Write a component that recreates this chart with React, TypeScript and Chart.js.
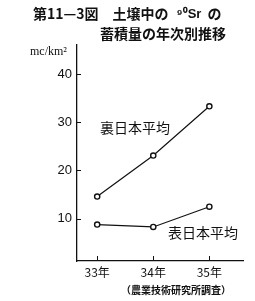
import React, { useEffect, useRef } from "react";
import { Chart, registerables } from "chart.js";

Chart.register(...registerables);

const years = [33, 34, 35];
const yearLabels = ["33年", "34年", "35年"];
const uraNihon = [14.6, 23.1, 33.3];
const omoteNihon = [8.8, 8.3, 12.5];
const yTicks = [10, 20, 30, 40];
const titleLine1 = "第11—3図　土壌中の";
const titleSr = "⁹⁰Sr";
const titleLine1b = "の";
const titleLine2 = "蓄積量の年次別推移";
const unitLabel = "mc/km²";
const seriesNames = ["裏日本平均", "表日本平均"];
const sourceNote = "（農業技術研究所調査）";

const JP = '"Noto Sans CJK JP", sans-serif';

const decor = {
  id: "decor",
  afterDraw(chart: any) {
    const ctx = chart.ctx;
    const xs = chart.scales.x;
    const ys = chart.scales.y;
    const area = chart.chartArea;
    ctx.save();
    // inside ticks
    ctx.strokeStyle = "#111";
    ctx.lineWidth = 1;
    ctx.beginPath();
    yTicks.forEach((v) => {
      const y = Math.round(ys.getPixelForValue(v)) + 0.5;
      ctx.moveTo(area.left, y);
      ctx.lineTo(area.left + 4, y);
    });
    years.forEach((v) => {
      const x = Math.round(xs.getPixelForValue(v)) + 0.5;
      ctx.moveTo(x, area.bottom);
      ctx.lineTo(x, area.bottom - 5);
    });
    ctx.stroke();

    ctx.fillStyle = "#111";
    ctx.textBaseline = "middle";
    // title
    ctx.font = `bold 14px ${JP}`;
    ctx.textAlign = "left";
    ctx.fillText(titleLine1, 33, 14);
    let w = ctx.measureText(titleLine1).width;
    ctx.font = `bold 13px "Liberation Sans", sans-serif`;
    ctx.fillText(titleSr, 33 + w + 8, 14);
    const w2 = ctx.measureText(titleSr).width;
    ctx.font = `bold 14px ${JP}`;
    ctx.fillText(titleLine1b, 33 + w + 8 + w2 + 6, 14);
    ctx.fillText(titleLine2, 100, 34);

    // unit
    ctx.font = `12px "Liberation Serif", serif`;
    ctx.fillText(unitLabel, 30, 52);

    // series labels
    ctx.font = `14px ${JP}`;
    ctx.fillText(seriesNames[0], 100, 128);
    ctx.fillText(seriesNames[1], 168, 233);

    // source
    ctx.font = `bold 10px ${JP}`;
    ctx.fillText(sourceNote, 121, 290);
    ctx.restore();
  },
};

export default function App() {
  const ref = useRef<HTMLCanvasElement>(null);
  useEffect(() => {
    const ds = (data: number[]) => ({
      data: years.map((x, i) => ({ x, y: data[i] })),
      borderColor: "#111",
      borderWidth: 1.2,
      pointRadius: 2.6,
      pointBorderWidth: 1.4,
      pointBackgroundColor: "#fff",
      pointBorderColor: "#111",
      tension: 0,
    });
    const chart = new Chart(ref.current!, {
      type: "line",
      data: { datasets: [ds(uraNihon), ds(omoteNihon)] },
      options: {
        animation: false,
        responsive: false,
        layout: { padding: { left: 0, top: 45, right: 12, bottom: 0 } },
        plugins: { legend: { display: false }, tooltip: { enabled: false } },
        scales: {
          x: {
            type: "linear",
            min: 32.64,
            max: 35.6,
            afterBuildTicks: (s: any) => {
              s.ticks = years.map((v) => ({ value: v }));
            },
            afterFit: (s: any) => {
              s.height = 40;
            },
            ticks: {
              padding: 4,
              color: "#111",
              font: { family: JP, size: 12 },
              callback: (v: any) => yearLabels[years.indexOf(Number(v))] ?? "",
              maxRotation: 0,
            },
            grid: { display: true, drawOnChartArea: false, drawTicks: false },
            border: { color: "#111", width: 1.3 },
          },
          y: {
            type: "linear",
            min: 1.25,
            max: 46,
            afterBuildTicks: (s: any) => {
              s.ticks = yTicks.map((v) => ({ value: v }));
            },
            afterFit: (s: any) => {
              s.width = 77;
            },
            ticks: {
              padding: 5,
              color: "#111",
              font: { family: '"Liberation Sans", sans-serif', size: 13 },
            },
            grid: { display: true, drawOnChartArea: false, drawTicks: false },
            border: { color: "#111", width: 1.3 },
          },
        },
      },
      plugins: [decor],
    });
    return () => chart.destroy();
  }, []);
  return (
    <div style={{ position: "fixed", left: 0, top: 0, width: 255, height: 301, background: "#fff" }}>
      <canvas ref={ref} width={255} height={301} style={{ display: "block" }} />
    </div>
  );
}
